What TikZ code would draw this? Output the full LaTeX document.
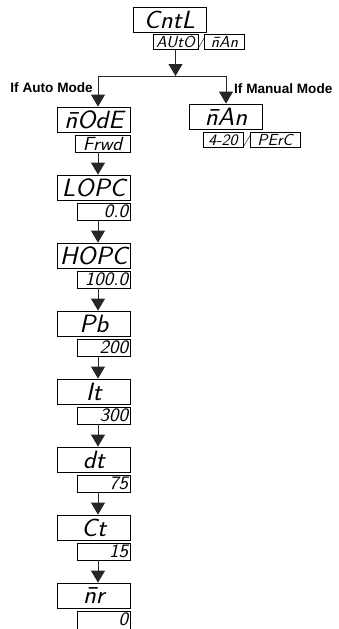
\documentclass[tikz,border=0pt]{standalone}
\usepackage{fontspec}
\usetikzlibrary{arrows.meta}
\newfontfamily\lblfont{Liberation Sans}
\newfontfamily\segfont{lmsans17-oblique.otf}[FakeStretch=1.06]
\newcommand{\bigseg}{\segfont\fontsize{25}{25}\selectfont}
\newcommand{\smallseg}{\segfont\fontsize{19}{19}\selectfont}
\newcommand{\tinyseg}{\segfont\fontsize{16}{16}\selectfont}
\tikzset{
  dispbox/.style={draw=black, line width=0.8pt, inner sep=0pt, fill=white},
  bigbox/.style={dispbox, minimum width=72.5pt, minimum height=25pt, font=\bigseg},
  bigc/.style={dispbox, text width=60pt, align=center, minimum height=25pt, font=\bigseg, inner xsep=6.25pt},
  smallbox/.style={dispbox, text width=49pt, align=right, inner xsep=2pt, minimum height=17pt, font=\smallseg},
  tinybox/.style={dispbox, minimum height=15pt, font=\tinyseg, inner xsep=1.5pt},
  slashtxt/.style={inner sep=0pt, font=\tinyseg},
  lbl/.style={inner sep=0pt, font=\lblfont\bfseries\fontsize{13.6}{14}\selectfont},
  arr/.style={line width=0.8pt, draw=black!85, -{Triangle[width=14pt,length=12pt]}},
  conn/.style={line width=0.8pt, draw=black!85}
}
\begin{document}
\begin{tikzpicture}[x=1pt,y=-1pt]
\useasboundingbox (0,0) rectangle (338,629);
\clip (0,0) rectangle (338,629);
% top
\node[bigbox, minimum width=73pt] (cntl) at (169.5,19.5) {CntL};
\node[tinybox, minimum width=45pt] (autob) at (175.5,42) {AUtO};
\node[slashtxt] (sl1) at (201,42) {/};
\node[tinybox, minimum width=40pt] (mansel) at (224.5,42) {\=nAn};
\coordinate (jc) at (175.5,76);
\coordinate (jl) at (98,76);
\coordinate (jr) at (226,76);
\coordinate (colx) at (98,0);
\draw[arr] (autob.south) -- (jc);
\draw[conn] (jl) -- (jr);
\node[lbl, anchor=east] (lauto) at (93,88) {If Auto Mode};
\node[lbl, anchor=west] (lman) at (234,89) {If Manual Mode};
% manual branch
\node[bigbox, minimum width=73pt] (manb) at (226,116.5) {\=nAn};
\node[tinybox, minimum width=40pt] (m420) at (223,140) {4-20};
\node[slashtxt] (sl2) at (246.5,140) {/};
\node[tinybox, minimum width=50pt] (perc) at (275,140) {PErC};
\draw[arr] (jr) -- (manb.north);
% auto column
\node[bigbox] (b0) at (93.75,119.5) {\=nOdE};
\node[dispbox, minimum width=55pt, minimum height=17pt, font=\smallseg] (s0) at (102.5,143.5) {Frwd};
\node[bigbox] (b1) at (93.75,187.5) {LOPC};
\node[smallbox] (s1) at (103.5,211.5) {0.0};
\node[bigbox] (b2) at (93.75,255.5) {HOPC};
\node[smallbox] (s2) at (103.5,279.5) {100.0};
\node[bigc] (b3) at (93.75,323.5) {Pb};
\node[smallbox] (s3) at (103.5,347.5) {200};
\node[bigc] (b4) at (93.75,391.5) {It};
\node[smallbox] (s4) at (103.5,415.5) {300};
\node[bigc] (b5) at (93.75,459.5) {dt};
\node[smallbox] (s5) at (103.5,483.5) {75};
\node[bigc] (b6) at (93.75,527.5) {Ct};
\node[smallbox] (s6) at (103.5,551.5) {15};
\node[bigc] (b7) at (93.75,595.5) {\=nr};
\node[smallbox, anchor=north, minimum height=26pt, text depth=10pt] (s7) at (103.5,611) {0};
\draw[arr] (jl) -- (b0.north -| colx);
\draw[arr] (s0.south -| colx) -- (b1.north -| colx);
\draw[arr] (s1.south -| colx) -- (b2.north -| colx);
\draw[arr] (s2.south -| colx) -- (b3.north -| colx);
\draw[arr] (s3.south -| colx) -- (b4.north -| colx);
\draw[arr] (s4.south -| colx) -- (b5.north -| colx);
\draw[arr] (s5.south -| colx) -- (b6.north -| colx);
\draw[arr] (s6.south -| colx) -- (b7.north -| colx);
\end{tikzpicture}
\end{document}
